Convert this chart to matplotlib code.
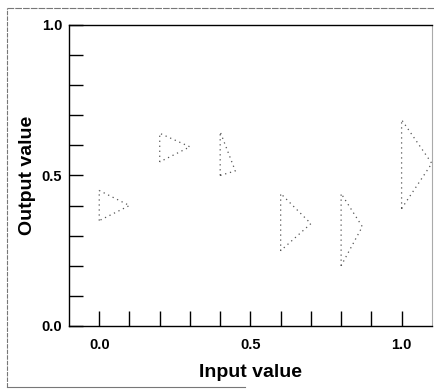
import numpy as np
import matplotlib
matplotlib.use("Agg")
import matplotlib.pyplot as plt
from matplotlib.lines import Line2D

plt.rcParams['font.family'] = ['Liberation Sans', 'DejaVu Sans']

# triangle markers: vertical base at input value, apex pointing right
base_x = [0.0, 0.2, 0.4, 0.6, 0.8, 1.0]
base_low = [0.35, 0.545, 0.50, 0.25, 0.20, 0.39]
base_high = [0.45, 0.64, 0.645, 0.44, 0.44, 0.685]
apex_x = [0.10, 0.30, 0.45, 0.70, 0.87, 1.10]
apex_y = [0.40, 0.595, 0.515, 0.34, 0.33, 0.54]

x_labels = ["0.0", "0.5", "1.0"]
y_labels = ["0.0", "0.5", "1.0"]

fig = plt.figure(figsize=(4.34, 3.89), dpi=100)
ax = fig.add_axes([0.159, 0.162, 0.836, 0.774])

for bx, lo, hi, ax_, ay in zip(base_x, base_low, base_high, apex_x, apex_y):
    xs = [bx, bx, ax_, bx]
    ys = [lo, hi, ay, lo]
    ax.plot(xs, ys, linestyle=(0, (1, 3)), color="#555555", linewidth=0.9,
            clip_on=False)

ax.set_xlim(-0.1, 1.1)
ax.set_ylim(0.0, 1.0)

ax.set_xticks([0.0, 0.5, 1.0])
ax.set_xticklabels(x_labels, fontsize=10.5, fontweight="bold")
ax.set_xticks(np.arange(0.0, 1.01, 0.1), minor=True)
ax.set_yticks([0.0, 0.5, 1.0])
ax.set_yticklabels(y_labels, fontsize=10.5, fontweight="bold")
ax.set_yticks(np.arange(0.1, 0.95, 0.1), minor=True)

ax.tick_params(axis="x", which="both", direction="in", length=11, width=1.0,
               pad=9, bottom=True, top=False)
ax.tick_params(axis="y", which="both", direction="in", length=10, width=1.0,
               pad=5, left=True, right=False)

for s in ["left", "bottom", "top"]:
    ax.spines[s].set_linewidth(1.0)
ax.spines["right"].set_color("#aaaaaa")
ax.spines["right"].set_linewidth(0.8)

ax.set_xlabel("Input value", fontsize=14, fontweight="bold", labelpad=8)
ax.set_ylabel("Output value", fontsize=14, fontweight="bold", labelpad=4)

# scanned page border
fig.add_artist(Line2D([0.016, 0.016], [0.005, 0.979], color="#777777",
                      linewidth=0.8, linestyle=(0, (4, 1))))
fig.add_artist(Line2D([0.016, 1.0], [0.979, 0.979], color="#777777",
                      linewidth=0.8, linestyle=(0, (6, 1))))
fig.add_artist(Line2D([0.016, 0.565], [0.005, 0.005], color="#777777",
                      linewidth=0.8))

fig.savefig("out.png", dpi=100)
